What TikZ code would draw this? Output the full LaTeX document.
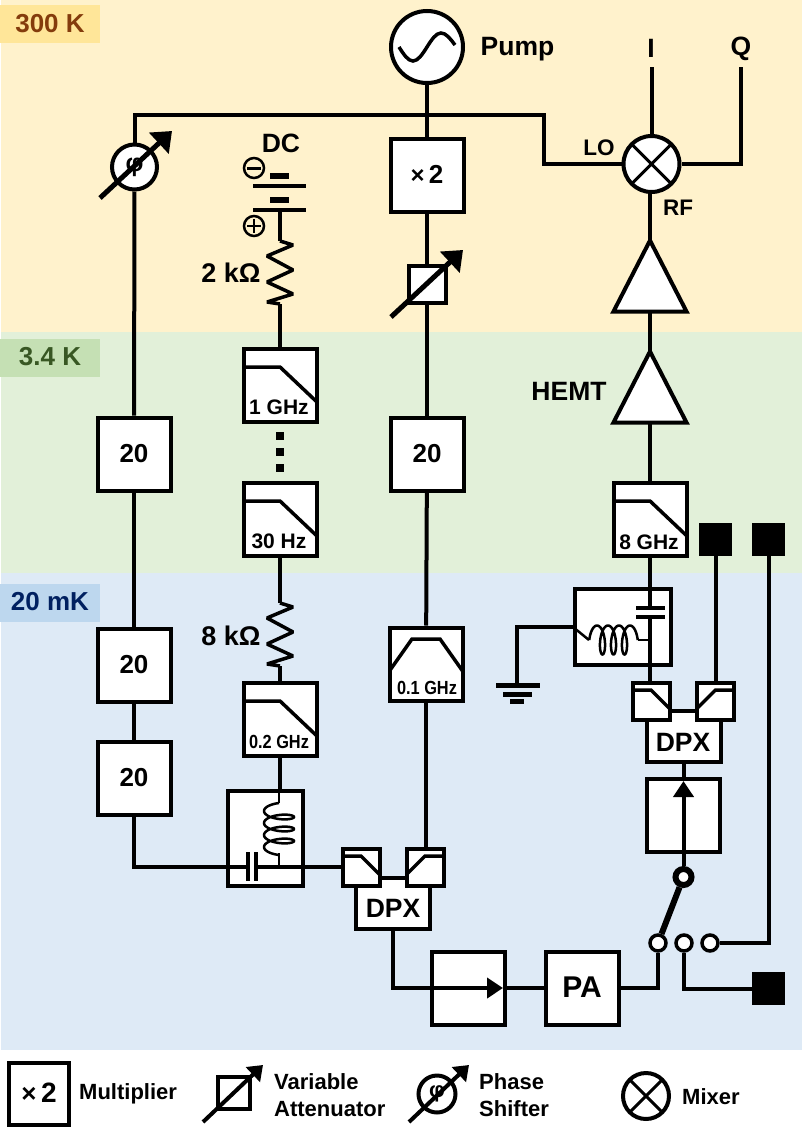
\documentclass[tikz,border=0pt]{standalone}
\usepackage{fontspec}
\setmainfont{Liberation Sans}
\newfontfamily\narrowsf[FakeStretch=0.86]{Liberation Sans}
\usetikzlibrary{arrows.meta,shapes.geometric}
\newcommand{\fnt}[1]{\fontsize{#1}{#1}\selectfont\bfseries}
\definecolor{warmbg}{HTML}{FFF2CC}
\definecolor{stillbg}{HTML}{E2F0D9}
\definecolor{coldbg}{HTML}{DEEAF6}
\definecolor{warmtag}{HTML}{FFE699}
\definecolor{stilltag}{HTML}{C5E0B4}
\definecolor{coldtag}{HTML}{BDD7EE}
\definecolor{warmtext}{HTML}{843C0C}
\definecolor{stilltext}{HTML}{385723}
\definecolor{coldtext}{HTML}{002060}
\tikzset{
wire/.style={line width=4pt},
thin wire/.style={line width=2.5pt},
box node/.style={rectangle,draw,fill=white,line width=4pt,inner sep=0pt,minimum size=73pt,text depth=2pt,font=\fnt{26}},
tag node/.style={rectangle,inner sep=0pt,minimum width=100pt,minimum height=38pt,text depth=2pt,font=\fnt{26}},
label node/.style={inner sep=0pt,font=\fnt{26.5}},
small label/.style={inner sep=0pt,font=\fnt{22.5}},
freq label/.style={inner sep=0pt,font=\fnt{21}},
tight label/.style={inner sep=0pt,font={\narrowsf\fnt{19}}},
legend label/.style={inner sep=0pt,anchor=west,font=\fnt{22}},
lowpass node/.style={box node,path picture={\draw[line width=3.5pt,shift={(path picture bounding box.center)}] (-37,-17) -- (0,-17) -- (38,19);}},
bandpass node/.style={box node,path picture={\draw[line width=3.5pt,shift={(path picture bounding box.center)}] (-38,10) -- (-14,-24) -- (14,-24) -- (38,10);}},
dpx left/.style={box node,minimum size=37pt,path picture={\draw[line width=3.5pt,shift={(path picture bounding box.center)}] (-20,-10) -- (0,-10) -- (20,10);}},
dpx right/.style={box node,minimum size=37pt,path picture={\draw[line width=3.5pt,shift={(path picture bounding box.center)}] (20,-10) -- (0,-10) -- (-20,10);}},
dpx body/.style={box node,minimum width=74pt,minimum height=51pt},
mixer node/.style={circle,draw,fill=white,line width=4pt,inner sep=0pt,minimum size=56pt,path picture={\draw[line width=3pt] (path picture bounding box.north west) -- (path picture bounding box.south east) (path picture bounding box.north east) -- (path picture bounding box.south west);}},
phase node/.style={circle,draw,fill=white,line width=4pt,inner sep=0pt,minimum size=45pt,font=\fnt{25}},
atten node/.style={rectangle,draw,fill=white,line width=4pt,inner sep=0pt,minimum size=37pt},
amp node/.style={isosceles triangle,isosceles triangle stretches,shape border rotate=90,draw,fill=white,line width=4pt,inner sep=0pt,outer sep=0pt,minimum width=73pt,minimum height=71pt,anchor=apex},
end node/.style={rectangle,fill=black,inner sep=0pt,minimum size=33pt},
dot node/.style={rectangle,fill=black,inner sep=0pt,minimum size=8pt},
port node/.style={circle,draw,fill=white,line width=3.5pt,inner sep=0pt,minimum size=16pt},
pole minus/.style={circle,draw,line width=2.5pt,inner sep=0pt,minimum size=20pt,path picture={\draw[line width=3pt,shift={(path picture bounding box.center)}] (-7,0) -- (7,0);}},
pole plus/.style={circle,draw,line width=2.5pt,inner sep=0pt,minimum size=20pt,path picture={\draw[line width=2.5pt,shift={(path picture bounding box.center)}] (-7,0) -- (7,0) (0,-7) -- (0,7);}},
tune arrow/.style={-{Triangle[length=18pt,width=28pt]},line width=5pt},
tune small/.style={-{Triangle[length=14pt,width=20pt]},line width=4pt},
iso arrow/.style={wire,-{Triangle[length=16pt,width=20pt]}},
resistor line/.style={line width=3.5pt,line join=bevel},
resistor/.style={to path={-- ++(13,4) -- ++(-26,11) -- ++(26,14) -- ++(-26,12) -- ++(26,12) -- ++(-26,8) -- (\tikztotarget)}}}
\begin{document}
\begin{tikzpicture}[x=1pt,y=-1pt]

\useasboundingbox (0,0) rectangle (802,1135);
\fill[white] (0,0) rectangle (802,1135);
\fill[warmbg] (1,0) rectangle (802,332);
\fill[stillbg] (1,332) rectangle (802,573);
\fill[coldbg] (1,573) rectangle (802,1050);

\node[tag node,fill=warmtag,text=warmtext] (tag300) at (50,24) {300 K};
\node[tag node,fill=stilltag,text=stilltext] (tag3) at (50,357.5) {3.4 K};
\node[tag node,fill=coldtag,text=coldtext] (tag20) at (50,602.5) {20 mK};

% boxes
\node[box node] (pump) [circle,minimum size=72pt] at (427,47) {};
\node[box node] (mult) at (427,175) {{\mdseries\fnt{24}×}\,2};
\node[atten node] (atten) at (427,284) {};
\node[box node] (att3a) at (427,454) {20};
\node[bandpass node] (bpf) at (426,664) {};
\node[mixer node] (mix) at (651.5,164) {};
\node[amp node] (amp1) at (650,240.5) {};
\node[amp node] (amp2) at (650,351.5) {};
\node[phase node] (phase) at (134.5,167) {φ};
\node[box node] (att1a) at (134,454) {20};
\node[box node] (att1b) at (134,665) {20};
\node[box node] (att1c) at (134,778) {20};
\node[lowpass node] (lp1) at (280,385) {};
\node[lowpass node] (lp2) at (280,519) {};
\node[lowpass node] (lp3) at (280,719) {};
\node[lowpass node] (lp4) at (650,519) {};
\node[box node,minimum width=75pt,minimum height=95pt] (tee) at (265.5,838.5) {};
\node[box node,minimum width=96pt,minimum height=76pt] (notch) at (623,627) {};
\node[dpx body] (dpxa) at (393,903) {};
\node[dpx left] (dpxa1) at (361,867) {};
\node[dpx right] (dpxa2) at (425,867) {};
\node[dpx body] (dpxb) at (683.5,736.5) {};
\node[dpx left] (dpxb1) at (651,701) {};
\node[dpx right] (dpxb2) at (715.5,701) {};
\node[box node] (isoa) at (468,988) {};
\node[box node,font=\fnt{30}] (pa) at (582,988) {PA};
\node[box node] (isob) at (683.5,815) {};
\node[end node] (enda) at (715.5,539) {};
\node[end node] (endb) at (768.5,539) {};
\node[end node] (endc) at (768.5,988.5) {};
\node[port node] (porta) at (658,943) {};
\node[port node] (portb) at (684,943) {};
\node[port node] (portc) at (710,943) {};
\node[circle,draw,fill=white,line width=6pt,inner sep=0pt,minimum size=16pt] (polesw) at (683.5,877) {};
\node[dot node] (dota) at (280,436) {};
\node[dot node] (dotb) at (280,452) {};
\node[dot node] (dotc) at (280,468) {};
\node[pole minus] (neg) at (254,168) {};
\node[pole plus] (posi) at (254,226) {};

% labels
\node[label node] (pumplbl) at (517.5,49) {Pump};
\node[label node] (ilbl) at (651,48) {I};
\node[label node] (qlbl) at (741,49) {Q};
\node[label node] (dclbl) at (281,143.5) {DC};
\node[label node,font=\fnt{27}] (r2lbl) at (231,273) {2 kΩ};
\node[label node,font=\fnt{27}] (r8lbl) at (231,636) {8 kΩ};
\node[label node] (hemtlbl) at (569,391.5) {HEMT};
\node[small label] (lolbl) at (599,147.5) {LO};
\node[small label] (rflbl) at (678,208) {RF};
\node[freq label] (f1) at (279,407.5) {1 GHz};
\node[freq label] (f2) at (279,541.5) {30 Hz};
\node[tight label] (f3) at (279,741.5) {0.2 GHz};
\node[freq label] (f4) at (649,542.5) {8 GHz};
\node[tight label] (f5) at (427,687.5) {0.1 GHz};
\node[label node] (dpxalbl) at (393,908.5) {DPX};
\node[label node] (dpxblbl) at (683,742.5) {DPX};

% pump sine
\draw[line width=3.5pt] (399,47) sin (413,61) cos (427,47) sin (441,33) cos (455,45);

% right column
\coordinate (loturn) at (544,115);
\coordinate (leftturn) at (134.5,115);
\coordinate (qtop) at (741,67);
\coordinate (itop) at (651.5,67);
\coordinate (qturn) at (741,164);
\draw[wire] (phase) -- (leftturn) -- (loturn) |- (mix);
\draw[wire] (itop) -- (mix);
\draw[wire] (qtop) -- (qturn) -- (mix);
\draw[wire] (amp1.apex |- mix.south) -- (amp1.apex);
\draw[wire] (amp1.lower side) -- (amp2.apex);
\draw[wire] (amp2.lower side) -- (lp4);

% pump line
\draw[wire] (pump) -- (mult);
\draw[wire] (mult) -- (atten);
\draw[wire] (atten) -- (att3a);
\draw[wire] (att3a) -- (bpf);
\draw[wire] (bpf) -- (bpf |- dpxa2.north);

% attenuation line
\draw[wire] (phase) -- (att1a);
\draw[wire] (att1a) -- (att1b);
\draw[wire] (att1b) -- (att1c);

% dc line
\coordinate (pla) at (280,210);
\coordinate (rat) at (280,241);
\coordinate (rab) at (280,304);
\coordinate (rbt) at (280,603);
\coordinate (rbb) at (280,666);
\draw[line width=6pt] (270,175.5) -- (289,175.5);
\draw[line width=4pt] (253,186) -- (306,186);
\draw[line width=6pt] (270,199.5) -- (289,199.5);
\draw[line width=4pt] (253,210) -- (306,210);
\draw[wire] (pla) -- (rat);
\draw[resistor line] (rat) to[resistor] (rab);
\draw[wire] (rab) -- (lp1);
\draw[wire] (lp2) -- (rbt);
\draw[resistor line] (rbt) to[resistor] (rbb);
\draw[wire] (rbb) -- (lp3);

% bias tee
\coordinate (capl) at (248,867);
\coordinate (capr) at (256,867);
\coordinate (cola) at (279,803);
\coordinate (colb) at (279,853);
\coordinate (colc) at (279,867);
\draw[wire] (att1c) |- (capl);
\draw[wire] (capr) -- (dpxa1);
\draw[wire] (248,852) -- (248,881);
\draw[wire] (256,852) -- (256,881);
\draw[wire] (lp3) -- (tee.north -| lp3);
\draw[thin wire] (tee.north -| cola) -- (cola);
\draw[thin wire] plot[domain=-90:1170,samples=160] ({279-15*cos(\x)},{811+12*\x/360+5*sin(\x)});
\draw[thin wire] (colb) -- (colc);

% notch filter
\coordinate (cpa) at (650,608);
\coordinate (cpb) at (650,617);
\coordinate (gndtop) at (517,683);
\coordinate (cola2) at (589,640);
\coordinate (colb2) at (638,640);
\coordinate (colc2) at (650,640);
\draw[wire] (lp4) -- (cpa);
\draw[wire] (cpb) -- (dpxb1.north -| cpb);
\draw[wire] (636,608) -- (665,608);
\draw[wire] (636,617) -- (665,617);
\draw[wire] (gndtop) |- (notch.west);
\draw[thin wire] (notch.west) -- (cola2);
\draw[thin wire] plot[domain=-90:1170,samples=160] ({597+11*\x/360+5*sin(\x)},{640-14.5*cos(\x)});
\draw[thin wire] (colb2) -- (colc2);
\draw[line width=5pt] (496,685.5) -- (540,685.5);
\draw[line width=5pt] (503,694) -- (532,694);
\draw[line width=5pt] (510,701) -- (524,701);

% readout chain
\draw[wire] (enda) -- (dpxb2);
\draw[wire] (endb) |- (portc);
\draw[wire] (dpxb) -- (isob);
\draw[iso arrow] (polesw) -- (683.5,781);
\draw[line width=6pt] (polesw) -- (porta);
\draw[iso arrow] (dpxa) |- (503,988);
\draw[wire] (isoa) -- (pa);
\draw[wire] (pa) -| (porta);
\draw[wire] (portb) |- (endc);

% tunable arrows
\draw[tune arrow] (100,198) -- (172,131);
\draw[tune arrow] (391,317) -- (463,250);

% legend
\node[box node,minimum width=60pt,minimum height=62pt,font=\fnt{28}] (legmult) at (39,1094) {{\mdseries\fnt{26}×}\,2};
\node[legend label] (legmultl) at (79,1094) {Multiplier};
\node[rectangle,draw,line width=4pt,minimum size=32pt,inner sep=0pt] (legatten) at (233.5,1093) {};
\draw[tune small] (203,1122) -- (263,1065);
\node[legend label] (legattena) at (274,1082) {Variable};
\node[legend label] (legattenb) at (274,1109) {Attenuator};
\node[circle,draw,line width=4pt,minimum size=37pt,inner sep=0pt,font=\fnt{22}] (legphase) at (437,1094) {φ};
\draw[tune small] (409,1122) -- (469,1065);
\node[legend label] (legphasea) at (479,1082) {Phase};
\node[legend label] (legphaseb) at (479,1109) {Shifter};
\node[mixer node,minimum size=46pt] (legmix) at (646,1096) {};
\node[legend label] (legmixl) at (682,1097) {Mixer};

\end{tikzpicture}
\end{document}
